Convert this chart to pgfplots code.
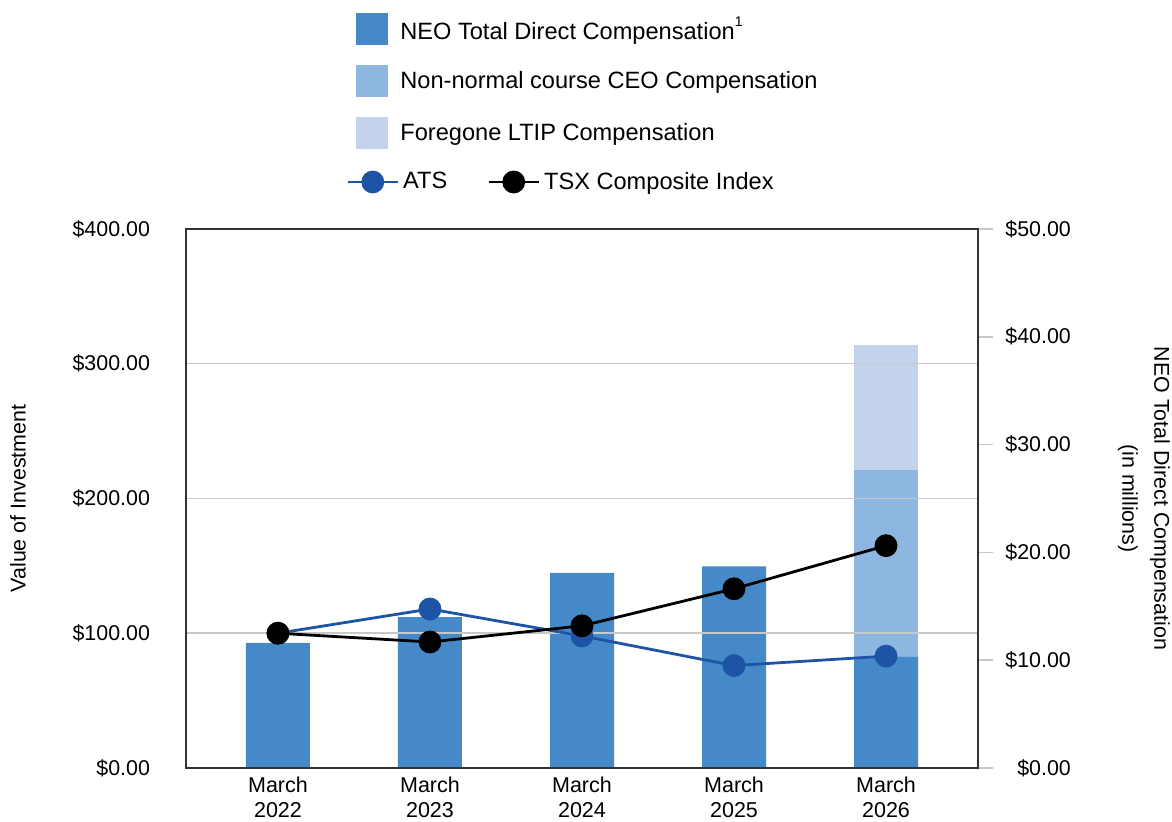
\documentclass[border=0pt]{standalone}
\usepackage{pgfplots}
\pgfplotsset{compat=1.18}
\usepackage{fontspec}
\setmainfont{Liberation Sans}
\definecolor{barDark}{RGB}{69,137,200}
\definecolor{barMid}{RGB}{141,182,224}
\definecolor{barLight}{RGB}{195,211,236}
\definecolor{atsblue}{RGB}{30,84,165}
\definecolor{gridgray}{RGB}{200,200,200}
\definecolor{axisgray}{RGB}{50,50,50}
\pgfplotsset{
  barleg/.style={legend image code/.code={\fill[##1] (0pt,-8pt) rectangle (16pt,8pt);}},
  lineleg/.style={legend image code/.code={\draw[mark repeat=2,mark phase=2,##1] plot coordinates {(0pt,0pt) (12.5pt,0pt) (25pt,0pt)};}},
}
\begin{document}
\begin{tikzpicture}
\path[use as bounding box] (-93pt,-27pt) rectangle (493pt,384pt);
% right axis: compensation bars
\begin{axis}[
  at={(0,0)}, anchor=south west,
  scale only axis, width=396pt, height=269.5pt,
  xmin=-0.605, xmax=4.605, ymin=0, ymax=50,
  enlargelimits=false,
  axis x line=none, axis y line*=right,
  y axis line style={draw=none},
  ytick={0,10,20,30,40,50},
  /pgf/number format/assume math mode=true,
  yticklabel={\$\pgfmathprintnumber[fixed,fixed zerofill,precision=2]{\tick}},
  tick align=outside, major tick length=7.5pt,
  ytick style={color=gridgray, line width=0.75pt},
  yticklabel style={font=\fontsize{10.7}{12}\selectfont, text width=33pt, align=right, anchor=west, xshift=2.4pt},
  every axis y label/.style={at={(axis description cs:1.2096,0.5)}, rotate=-90, anchor=center, align=center, font=\fontsize{10.7}{16}\selectfont},
  ylabel={NEO Total Direct Compensation\\(in millions)},
  ybar stacked, bar width=32pt,
  legend style={at={(axis description cs:0.2146,1.4007)}, anchor=north west, draw=none, fill=none, inner sep=0pt,
    font=\fontsize{11.8}{14}\selectfont, nodes={inner sep=0pt}, row sep=10pt, column sep=6pt},
  legend cell align=left,
]
\addplot[fill=barDark, draw=none, barleg] coordinates {(0,11.6) (1,14.0) (2,18.1) (3,18.7) (4,10.3)};
\addlegendentry{NEO Total Direct Compensation\raisebox{0.55em}{\fontsize{7}{8}\selectfont 1}}
\addplot[fill=barMid, draw=none, barleg] coordinates {(0,0) (1,0) (2,0) (3,0) (4,17.3)};
\addlegendentry{Non-normal course CEO Compensation}
\addplot[fill=barLight, draw=none, barleg] coordinates {(0,0) (1,0) (2,0) (3,0) (4,11.6)};
\addlegendentry{Foregone LTIP Compensation}
\end{axis}
% left axis: value of investment
\begin{axis}[
  at={(0,0)}, anchor=south west,
  scale only axis, width=396pt, height=269.5pt,
  xmin=-0.605, xmax=4.605, ymin=0, ymax=400,
  enlargelimits=false,
  axis line style={draw=axisgray, line width=0.75pt},
  xtick={0,1,2,3,4},
  xticklabels={{March\\2022},{March\\2023},{March\\2024},{March\\2025},{March\\2026}},
  xticklabel style={align=center, font=\fontsize{10.75}{12.6}\selectfont, yshift=-1pt},
  ytick={0,100,200,300,400},
  major tick length=0pt,
  ymajorgrids, grid style={gridgray, line width=0.75pt},
  /pgf/number format/assume math mode=true,
  yticklabel={\$\pgfmathprintnumber[fixed,fixed zerofill,precision=2]{\tick}},
  yticklabel style={font=\fontsize{10.7}{12}\selectfont, xshift=-14.5pt},
  every axis y label/.style={at={(axis description cs:-0.2121,0.5)}, rotate=90, anchor=center, font=\fontsize{10.7}{12}\selectfont},
  ylabel={Value of Investment},
  legend columns=2,
  legend style={at={(axis description cs:0.202,1.0872)}, anchor=west, draw=none, fill=none, inner sep=0pt,
    font=\fontsize{11.8}{14}\selectfont, nodes={inner sep=0pt}, column sep=2pt,
    /tikz/every even column/.append style={column sep=20pt}},
]
\addplot[atsblue, line width=1.4pt, mark=*, mark size=5pt, mark options={fill=atsblue, draw=atsblue}, lineleg]
  coordinates {(0,100) (1,118) (2,98) (3,76) (4,83)};
\addlegendentry{ATS}
\addplot[black, line width=1.4pt, mark=*, mark size=5pt, mark options={fill=black, draw=black}, lineleg]
  coordinates {(0,100) (1,93.5) (2,105.5) (3,133) (4,165)};
\addlegendentry{TSX Composite Index}
\end{axis}
\end{tikzpicture}
\end{document}
